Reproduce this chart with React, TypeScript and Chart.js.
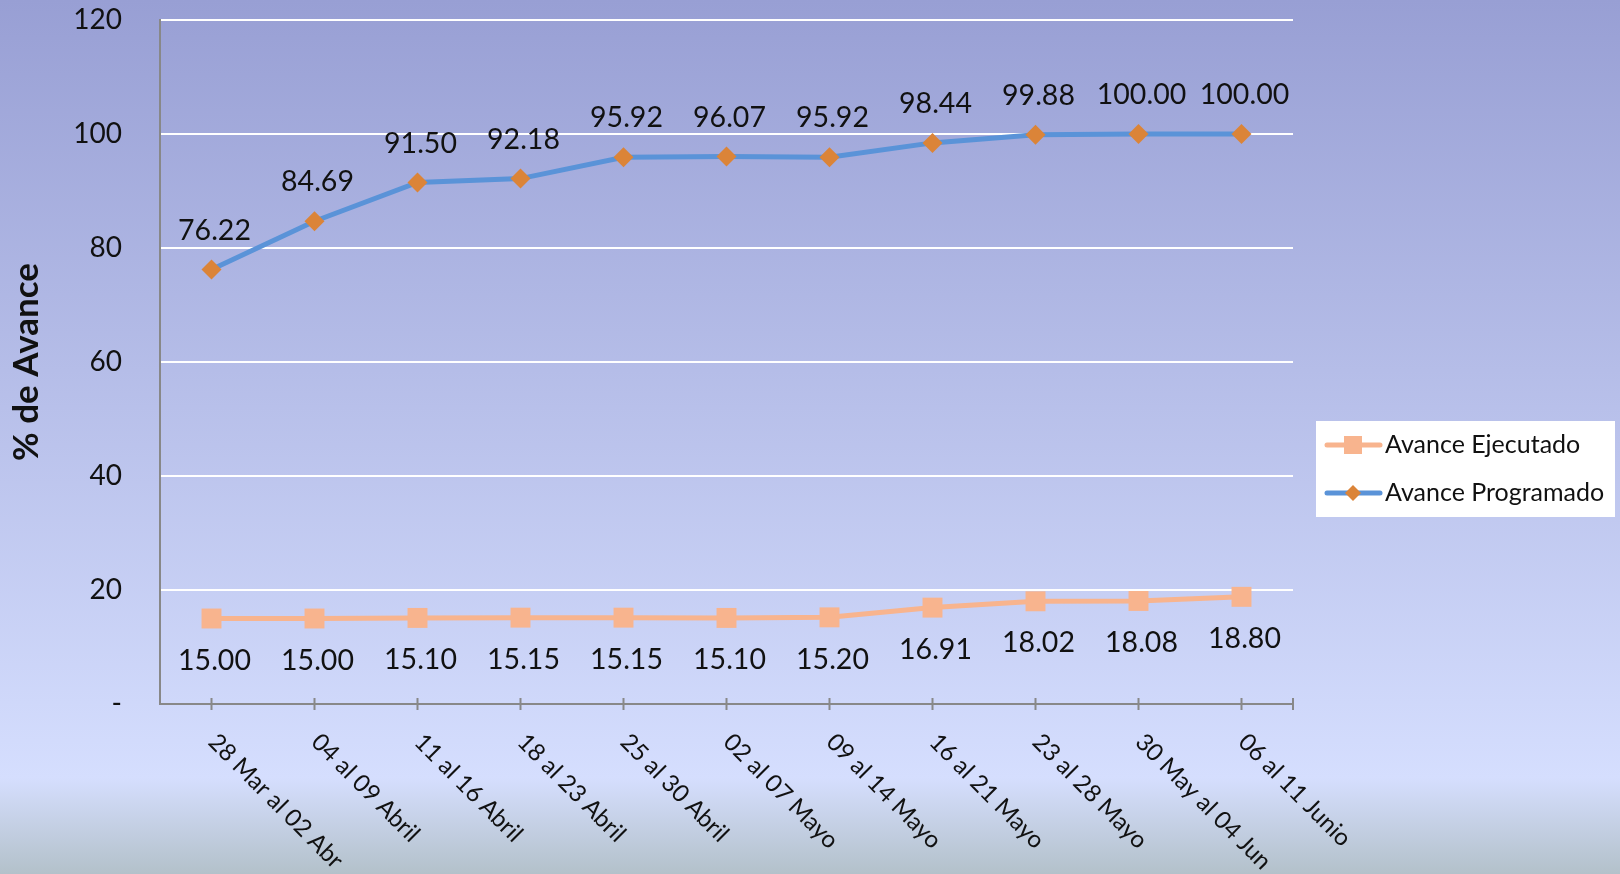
import React, { useEffect, useRef } from 'react';
import { Chart, registerables } from 'chart.js';

Chart.register(...registerables);

const categories = [
  '28 Mar al 02 Abr',
  '04 al 09 Abril',
  '11 al 16 Abril',
  '18 al 23 Abril',
  '25 al 30 Abril',
  '02 al 07 Mayo',
  '09 al 14 Mayo',
  '16 al 21 Mayo',
  '23 al 28 Mayo',
  '30 May al 04 Jun',
  '06 al 11 Junio',
];
const avanceEjecutado = [15.0, 15.0, 15.1, 15.15, 15.15, 15.1, 15.2, 16.91, 18.02, 18.08, 18.8];
const avanceProgramado = [76.22, 84.69, 91.5, 92.18, 95.92, 96.07, 95.92, 98.44, 99.88, 100.0, 100.0];
const seriesNames = ['Avance Ejecutado', 'Avance Programado'];
const yAxisTitle = '% de Avance';
const yMin = 0;
const yMax = 120;
const yStep = 20;

const FONT = 'Lato, "Open Sans", sans-serif';
const W = 1620;
const H = 874;

const backgroundPlugin = {
  id: 'bgGradient',
  beforeDraw(chart: any) {
    const { ctx, width, height } = chart;
    const g = ctx.createLinearGradient(0, 0, 0, height);
    g.addColorStop(0, '#989FD4');
    g.addColorStop(0.89, '#D5DEFE');
    g.addColorStop(1, '#B3C1CA');
    ctx.save();
    ctx.fillStyle = g;
    ctx.fillRect(0, 0, width, height);
    ctx.restore();
  },
};

const xTicksPlugin = {
  id: 'xTicksLabels',
  afterDraw(chart: any) {
    const { ctx } = chart;
    const xs = chart.scales.x;
    const bottom = xs.top;
    ctx.save();
    ctx.strokeStyle = '#888888';
    ctx.lineWidth = 2;
    const positions: number[] = [];
    for (let i = 0; i < chart.data.labels.length; i++) positions.push(xs.getPixelForValue(i));
    positions.push(xs.right);
    ctx.beginPath();
    positions.forEach((p) => {
      ctx.moveTo(p, bottom - 6);
      ctx.lineTo(p, bottom + 6);
    });
    ctx.stroke();
    ctx.fillStyle = '#111111';
    ctx.font = `24px ${FONT}`;
    ctx.textAlign = 'left';
    ctx.textBaseline = 'middle';
    chart.data.labels.forEach((lab: string, i: number) => {
      const x = xs.getPixelForValue(i);
      ctx.save();
      ctx.translate(x + 1, bottom + 34);
      ctx.rotate(Math.PI / 4);
      ctx.fillText(lab, 0, 0);
      ctx.restore();
    });
    ctx.restore();
  },
};

const dataLabelsPlugin = {
  id: 'valueLabels',
  afterDatasetsDraw(chart: any) {
    const { ctx } = chart;
    ctx.save();
    ctx.fillStyle = '#111111';
    ctx.font = `28.5px ${FONT}`;
    ctx.textAlign = 'center';
    ctx.textBaseline = 'middle';
    chart.data.datasets.forEach((ds: any, di: number) => {
      const meta = chart.getDatasetMeta(di);
      const dy = di === 0 ? 42 : -39;
      meta.data.forEach((pt: any, i: number) => {
        ctx.fillText(Number(ds.data[i]).toFixed(2), pt.x + 3, pt.y + dy);
      });
    });
    ctx.restore();
  },
};

const legendPlugin = {
  id: 'customLegend',
  afterDraw(chart: any) {
    const { ctx } = chart;
    const bx = 1316, by = 421, bw = 299, bh = 96;
    ctx.save();
    ctx.fillStyle = '#FFFFFF';
    ctx.fillRect(bx, by, bw, bh);
    chart.data.datasets.forEach((ds: any, i: number) => {
      const y = by + 24 + i * 48;
      ctx.strokeStyle = ds.borderColor;
      ctx.lineWidth = 5;
      ctx.lineCap = 'round';
      ctx.beginPath();
      ctx.moveTo(1327, y);
      ctx.lineTo(1380, y);
      ctx.stroke();
      ctx.fillStyle = ds.pointBackgroundColor;
      const cx = 1353;
      if (ds.pointStyle === 'rect') {
        ctx.fillRect(cx - 9, y - 9, 18, 18);
      } else {
        ctx.beginPath();
        ctx.moveTo(cx, y - 8);
        ctx.lineTo(cx + 8, y);
        ctx.lineTo(cx, y + 8);
        ctx.lineTo(cx - 8, y);
        ctx.closePath();
        ctx.fill();
      }
      ctx.fillStyle = '#111111';
      ctx.font = `25px ${FONT}`;
      ctx.textAlign = 'left';
      ctx.textBaseline = 'middle';
      ctx.fillText(ds.label, 1385, y);
    });
    ctx.restore();
  },
};

export default function App() {
  const canvasRef = useRef<HTMLCanvasElement | null>(null);

  useEffect(() => {
    document.body.style.margin = '0';
    let chart: Chart | null = null;
    let cancelled = false;
    const build = () => {
      if (cancelled || !canvasRef.current) return;
      chart = new Chart(canvasRef.current, {
        type: 'line',
        data: {
          labels: categories,
          datasets: [
            {
              label: seriesNames[0],
              data: avanceEjecutado,
              borderColor: '#F8B48E',
              backgroundColor: '#F8B48E',
              pointBackgroundColor: '#F8B48E',
              pointBorderColor: '#F8B48E',
              pointStyle: 'rect',
              pointRadius: 14.1,
              pointBorderWidth: 0,
              borderWidth: 5,
              tension: 0,
              fill: false,
            },
            {
              label: seriesNames[1],
              data: avanceProgramado,
              borderColor: '#5A93D8',
              backgroundColor: '#5A93D8',
              pointBackgroundColor: '#DB8438',
              pointBorderColor: '#DB8438',
              pointStyle: 'rectRot',
              pointRadius: 10,
              pointBorderWidth: 0,
              borderWidth: 5,
              tension: 0,
              fill: false,
            },
          ],
        },
        options: {
          responsive: false,
          animation: false,
          devicePixelRatio: 1,
          layout: { padding: { left: 0, right: 327, top: 20, bottom: 0 } },
          plugins: {
            legend: { display: false },
            tooltip: { enabled: false },
          },
          scales: {
            x: {
              type: 'category',
              offset: true,
              grid: { display: false },
              border: { display: true, color: '#888888', width: 2 },
              ticks: { display: false },
              afterFit: (s: any) => {
                s.height = 170;
              },
            },
            y: {
              min: yMin,
              max: yMax,
              grid: {
                color: (c: any) => (c.tick && c.tick.value === 0 ? 'rgba(0,0,0,0)' : '#FFFFFF'),
                lineWidth: 2,
                drawTicks: false,
              },
              border: { display: true, color: '#888888', width: 2 },
              ticks: {
                stepSize: yStep,
                padding: 38,
                color: '#111111',
                font: { family: FONT, size: 28 },
                callback: (v: any) => (Number(v) === 0 ? '-' : String(v)),
              },
              title: {
                display: true,
                text: yAxisTitle,
                color: '#111111',
                font: { family: FONT, size: 35, weight: 'bold' },
                padding: { top: 6, bottom: 0 },
              },
              afterFit: (s: any) => {
                s.width = 160;
                s.paddingTop = 10;
                s.paddingBottom = 10;
              },
            },
          },
        },
        plugins: [backgroundPlugin, xTicksPlugin, dataLabelsPlugin, legendPlugin],
      } as any);
    };
    const fontsApi: any = (document as any).fonts;
    if (fontsApi && fontsApi.load) {
      Promise.all([
        fontsApi.load(`28px Lato`),
        fontsApi.load(`bold 35px Lato`),
      ])
        .catch(() => null)
        .then(build);
    } else {
      build();
    }
    return () => {
      cancelled = true;
      if (chart) chart.destroy();
    };
  }, []);

  return (
    <div style={{ width: W, height: H, overflow: 'hidden' }}>
      <canvas ref={canvasRef} width={W} height={H} style={{ display: 'block', width: W, height: H }} />
    </div>
  );
}
